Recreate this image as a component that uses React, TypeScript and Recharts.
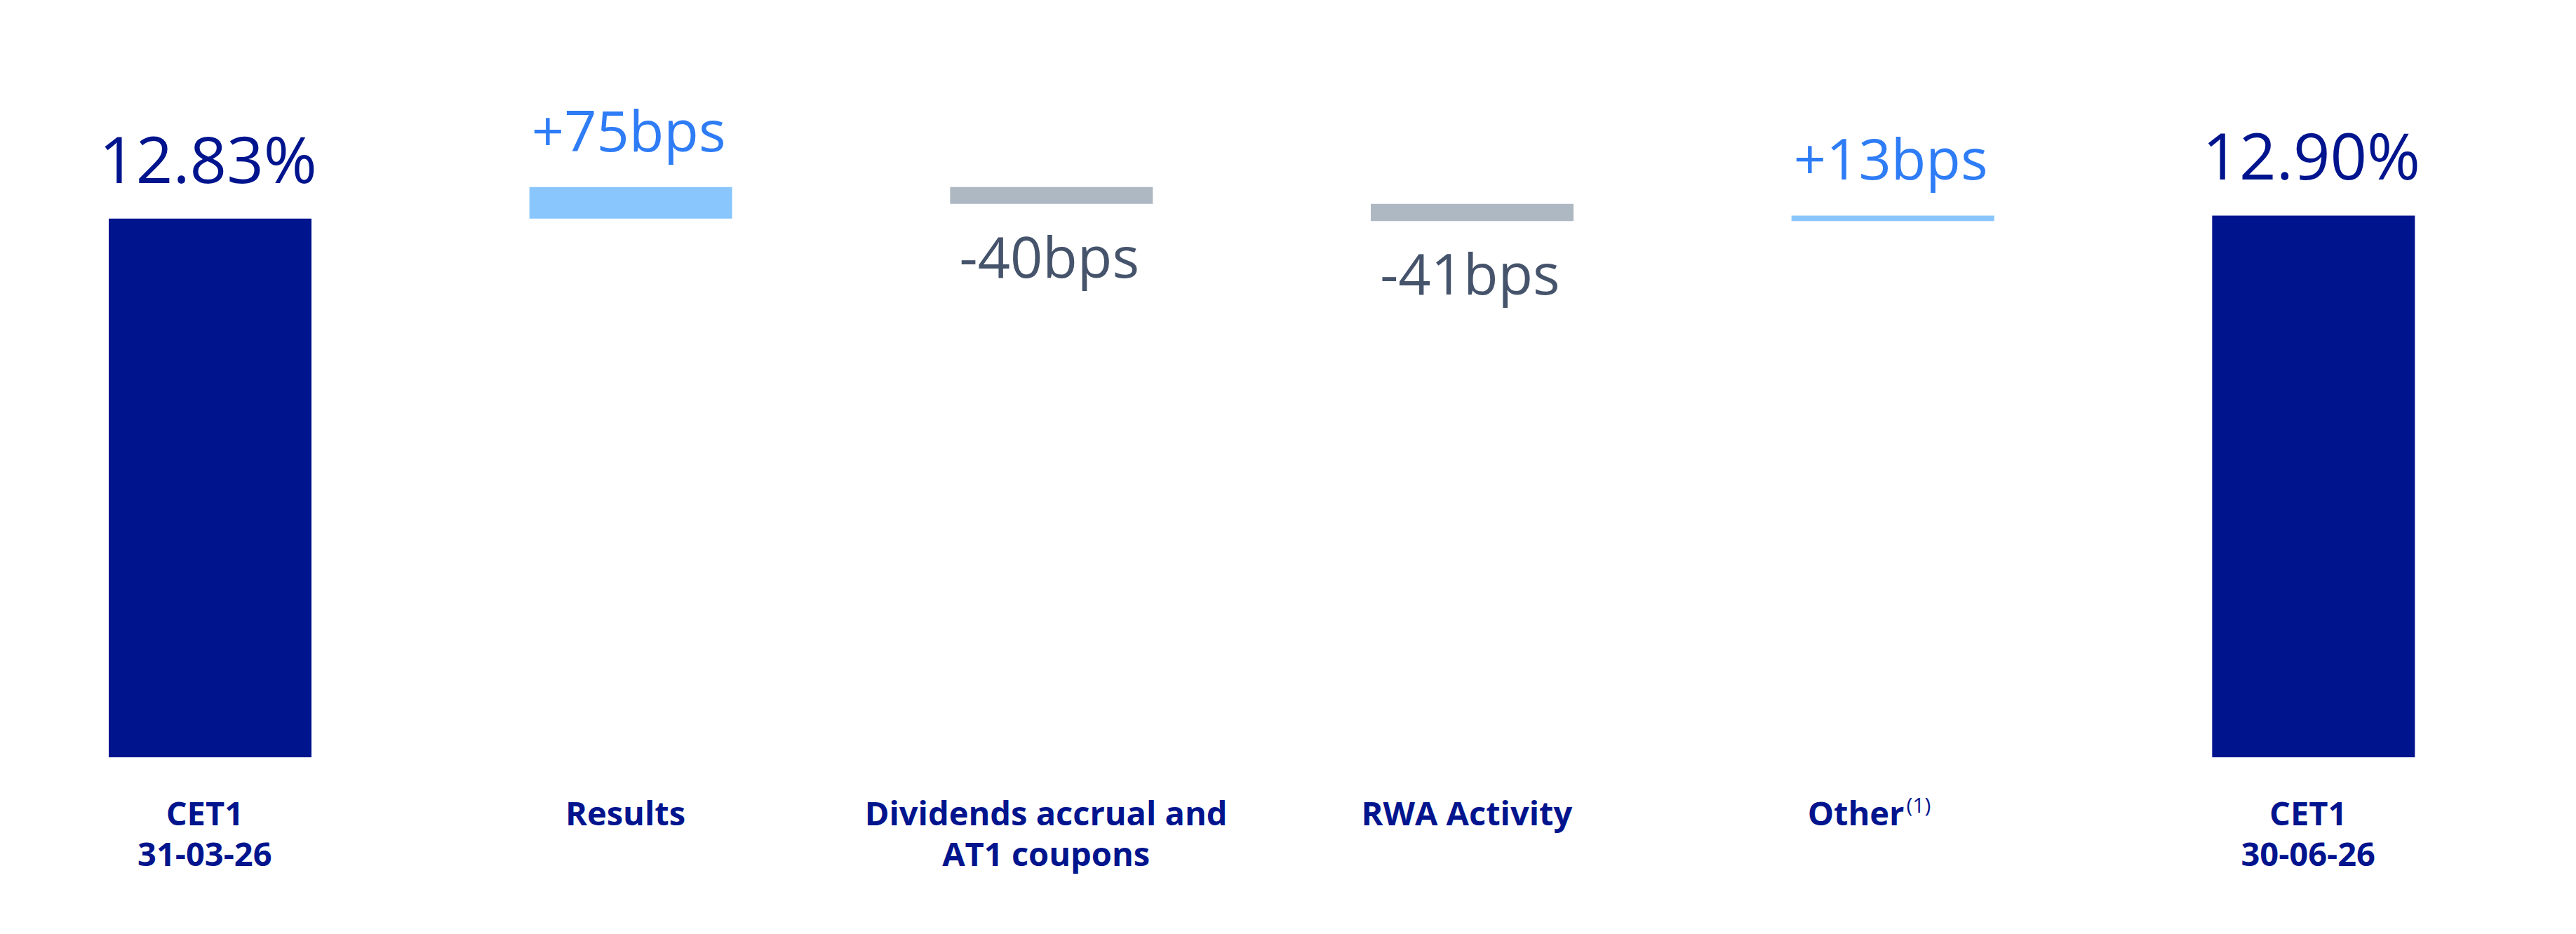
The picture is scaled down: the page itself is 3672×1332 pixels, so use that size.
import React from 'react'
import { BarChart, Bar, XAxis, YAxis, Cell, LabelList } from 'recharts'

const categoryLines = [
  ['CET1', '31-03-26'],
  ['Results'],
  ['Dividends accrual and', 'AT1 coupons'],
  ['RWA Activity'],
  ['Other'],
  ['CET1', '30-06-26'],
]
const footnotes = ['', '', '', '', '(1)', '']

const startValue = 12.83
const endValue = 12.9
const movesBps = [75, -40, -41, 13]
const valueLabels = ['12.83%', '+75bps', '-40bps', '-41bps', '+13bps', '12.90%']

const NAVY = '#00148E'
const colors = {
  total: { bar: NAVY, text: NAVY },
  up: { bar: '#89C6FD', text: '#2E7CF6' },
  down: { bar: '#AEB8C2', text: '#45536B' },
}

type Row = { name: string; base: number; value: number; kind: 'total' | 'up' | 'down' }

const rows: Row[] = (() => {
  const out: Row[] = [{ name: categoryLines[0].join(' '), base: 0, value: startValue, kind: 'total' }]
  let running = startValue
  movesBps.forEach((m, i) => {
    const next = running + m / 100
    out.push({
      name: categoryLines[i + 1].join(' '),
      base: Math.min(running, next),
      value: Math.abs(m) / 100,
      kind: m >= 0 ? 'up' : 'down',
    })
    running = next
  })
  out.push({ name: categoryLines[5].join(' '), base: 0, value: endValue, kind: 'total' })
  return out
})()

function ValueLabel(props: any) {
  const { x, y, width, height, index } = props
  const row = rows[index]
  const below = row.kind === 'down'
  const ty = below ? y + height + 105 : y - 51
  return (
    <text
      x={x + width / 2 - 3}
      y={ty}
      textAnchor="middle"
      fontFamily="'Open Sans'"
      fontSize={row.kind === 'total' ? 92 : 81}
      fill={colors[row.kind].text}
    >
      {valueLabels[index]}
    </text>
  )
}

function CategoryTick(props: any) {
  const { x, y, index } = props
  const lines = categoryLines[index]
  const note = footnotes[index]
  const cx = x - 8 - (note ? 26 : 0)
  return (
    <text x={cx} y={y} textAnchor="middle" fontFamily="'Open Sans'" fontWeight={700} fontSize={47} fill={NAVY}>
      {lines.map((l, i) => (
        <tspan key={i} x={cx} dy={i === 0 ? 97 : 58}>
          {l}
          {i === lines.length - 1 && note ? (
            <tspan fontSize={30} fontWeight={400} dx={3} dy={-18}>{note}</tspan>
          ) : null}
        </tspan>
      ))}
    </text>
  )
}

export default function App() {
  return (
    <div style={{ position: 'absolute', left: 0, top: 0, background: '#fff' }}>
      <BarChart width={3672} height={1332} data={rows} margin={{ top: 2, right: 74, left: 0, bottom: 0 }} barSize={289}>
        <XAxis
          dataKey="name"
          height={252}
          axisLine={false}
          tickLine={false}
          tickSize={0}
          tickMargin={0}
          interval={0}
          tick={<CategoryTick />}
        />
        <YAxis hide domain={[0, 18]} />
        <Bar dataKey="base" stackId="w" fill="transparent" isAnimationActive={false} />
        <Bar dataKey="value" stackId="w" isAnimationActive={false}>
          {rows.map((r, i) => (
            <Cell key={i} fill={colors[r.kind].bar} />
          ))}
          <LabelList dataKey="value" content={<ValueLabel />} />
        </Bar>
      </BarChart>
    </div>
  )
}
